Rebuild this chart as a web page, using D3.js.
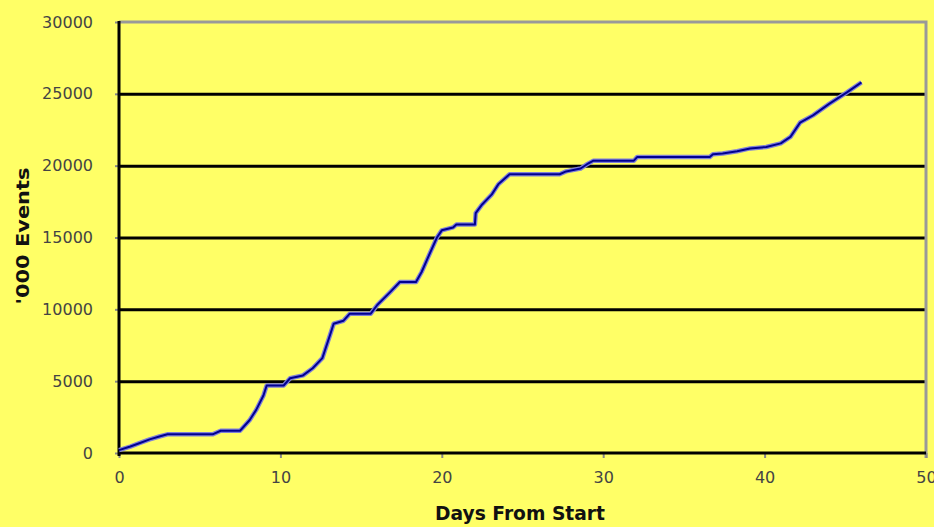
<!DOCTYPE html>
<html>
<head>
<meta charset="utf-8">
<script src="https://cdnjs.cloudflare.com/ajax/libs/d3/7.8.5/d3.min.js"></script>
<style>
  body { margin: 0; background: #ffff66; }
  svg { display: block; }
  .tick text { font-family: "DejaVu Sans", sans-serif; font-size: 16px; fill: #444; }
</style>
</head>
<body>
<div class="canvas"></div>
<script>
// data
const days = [0, 0.7, 1.3, 1.9, 2.5, 3.0, 5.8, 6.3, 7.5, 8.1, 8.5, 8.95, 9.15, 10.2, 10.6, 11.4, 12.0, 12.6, 13.1, 13.3, 13.9, 14.3,
  15.6, 16.0, 16.8, 17.4, 18.4, 18.75, 19.1, 19.7, 20.0, 20.7, 20.9, 22.05, 22.1, 22.5, 23.1, 23.5, 24.2, 27.3, 27.7, 28.6, 29.0,
  29.4, 31.9, 32.1, 36.6, 36.8, 37.4, 38.3, 39.1, 40.1, 41.0, 41.6, 42.2, 43.0, 44.0, 45.1, 46.0];
const events = [200, 450, 700, 950, 1150, 1300, 1300, 1550, 1550, 2300, 3000, 4000, 4700, 4700, 5200, 5400, 5900, 6600, 8300, 9000, 9200, 9700,
  9700, 10300, 11200, 11900, 11900, 12600, 13500, 15000, 15500, 15700, 15900, 15900, 16700, 17300, 18000, 18700, 19400, 19400, 19600, 19800, 20100,
  20350, 20350, 20600, 20600, 20800, 20850, 21000, 21200, 21300, 21550, 22000, 23000, 23500, 24300, 25100, 25800];
const xTicks = [0, 10, 20, 30, 40, 50];
const yTicks = [0, 5000, 10000, 15000, 20000, 25000, 30000];

const margin = { top: 22, right: 8, bottom: 74, left: 119 };
const graphWidth = 934 - margin.left - margin.right;
const graphHeight = 527 - margin.top - margin.bottom;

const svg = d3
  .select(".canvas")
  .append("svg")
  .attr("width", 934)
  .attr("height", 527);

const graph = svg
  .append("g")
  .attr("transform", `translate(${margin.left}, ${margin.top})`);

// scales
const x = d3.scaleLinear().domain([0, 50]).range([0, graphWidth]);
const y = d3.scaleLinear().domain([0, 30000]).range([graphHeight, 0]);

// gridlines
const grid = graph
  .append("g")
  .call(d3.axisLeft(y).tickValues(yTicks.slice(1, -1)).tickSize(-graphWidth).tickFormat(""));
grid.select(".domain").remove();
grid.selectAll("line").attr("stroke", "#000").attr("stroke-width", 3);

// plot border (top and right)
graph.append("path")
  .attr("d", `M0,${y(30000)}H${x(50)}V${graphHeight + 5}`)
  .attr("fill", "none")
  .attr("stroke", "#999")
  .attr("stroke-width", 3);

// axes
const yAxis = d3.axisLeft(y).tickValues(yTicks).tickSize(4).tickPadding(22).tickFormat(d3.format("d"));
const xAxis = d3.axisBottom(x).tickValues(xTicks).tickSize(5).tickPadding(14);

const yAxisGroup = graph.append("g").call(yAxis);
const xAxisGroup = graph.append("g").attr("transform", `translate(0, ${graphHeight})`).call(xAxis);

yAxisGroup.select(".domain").remove();
xAxisGroup.select(".domain").remove();
yAxisGroup.selectAll("line").attr("stroke", "#888").attr("stroke-width", 2);
xAxisGroup.selectAll("line").attr("stroke", "#888").attr("stroke-width", 2);

graph.append("line")
  .attr("x1", 0).attr("x2", 0)
  .attr("y1", y(30000) - 1).attr("y2", graphHeight + 3)
  .attr("stroke", "#000").attr("stroke-width", 3);
graph.append("line")
  .attr("x1", 0).attr("x2", x(50))
  .attr("y1", graphHeight).attr("y2", graphHeight)
  .attr("stroke", "#000").attr("stroke-width", 3);

// line
const line = d3
  .line()
  .x((d, i) => x(days[i]))
  .y((d) => y(d));

graph.append("path")
  .datum(events)
  .attr("fill", "none")
  .attr("stroke", "#8080d8")
  .attr("stroke-width", 4.5)
  .attr("stroke-linejoin", "round")
  .attr("d", line);

graph.append("path")
  .datum(events)
  .attr("fill", "none")
  .attr("stroke", "#000090")
  .attr("stroke-width", 2)
  .attr("stroke-linejoin", "round")
  .attr("d", line);

// titles
svg.append("text")
  .attr("x", 520)
  .attr("y", 520)
  .attr("text-anchor", "middle")
  .attr("textLength", 170)
  .attr("lengthAdjust", "spacingAndGlyphs")
  .style("font-family", "'DejaVu Sans', sans-serif")
  .style("font-weight", "bold")
  .style("font-size", "20px")
  .style("fill", "#111")
  .text("Days From Start");

svg.append("text")
  .attr("transform", "translate(29, 236) rotate(-90)")
  .attr("text-anchor", "middle")
  .attr("textLength", 137)
  .attr("lengthAdjust", "spacingAndGlyphs")
  .style("font-family", "'DejaVu Sans', sans-serif")
  .style("font-weight", "bold")
  .style("font-size", "18px")
  .style("fill", "#111")
  .text("'000 Events");
</script>
</body>
</html>
